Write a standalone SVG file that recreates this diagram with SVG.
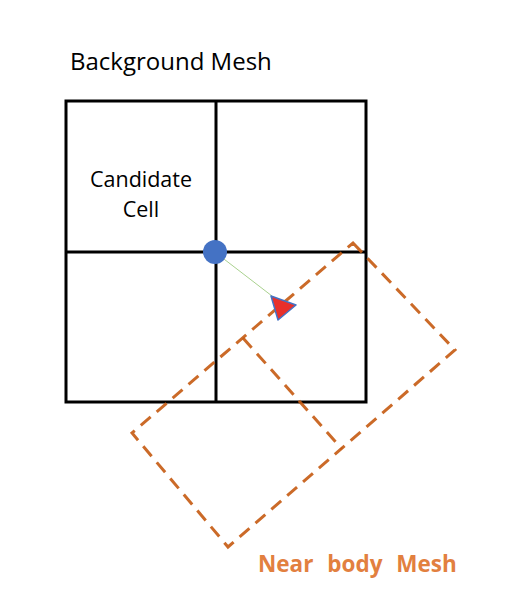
<svg xmlns="http://www.w3.org/2000/svg" width="532" height="604" viewBox="0 0 532 604">
<style>
.lbl{font-family:"Open Sans","Liberation Sans",sans-serif;font-size:21.5px;fill:#000}
.grid{fill:none;stroke:#000;stroke-width:3}
.nb{fill:none;stroke:#C55A11;stroke-width:3;stroke-dasharray:13 8;opacity:0.9}
.or{font-family:"Open Sans","Liberation Sans",sans-serif;font-size:22.5px;font-weight:bold;fill:#E2803F;word-spacing:8px}
</style>
<rect width="532" height="604" fill="#fff"/>
<g id="background-mesh">
<rect class="grid" x="66" y="101" width="300" height="301"/>
<line class="grid" x1="216" y1="101" x2="216" y2="402"/>
<line class="grid" x1="66" y1="252" x2="366" y2="252"/>
<text class="lbl" x="70" y="70" style="font-size:24px">Background Mesh</text>
</g>
<g id="candidate-cell">
<text class="lbl" x="141" y="187" text-anchor="middle">Candidate</text>
<text class="lbl" x="141" y="217" text-anchor="middle">Cell</text>
</g>
<g id="near-body-mesh">
<path class="nb" d="M353,243 L455,350 L228,547 L132,433 Z"/>
<line class="nb" x1="243" y1="338" x2="342" y2="449"/>
<text class="or" x="258" y="572">Near body Mesh</text>
</g>
<g id="connectors">
<line x1="220" y1="256" x2="272" y2="296" stroke="#A9D18E" stroke-width="1"/>
</g>
<g id="point">
<circle cx="215" cy="252" r="12" fill="#4472C4"/>
</g>
<g id="target">
<polygon points="271,296 296,305 278,320" fill="#E8302A" stroke="#4472C4" stroke-width="1.5" stroke-linejoin="round"/>
</g>
</svg>
